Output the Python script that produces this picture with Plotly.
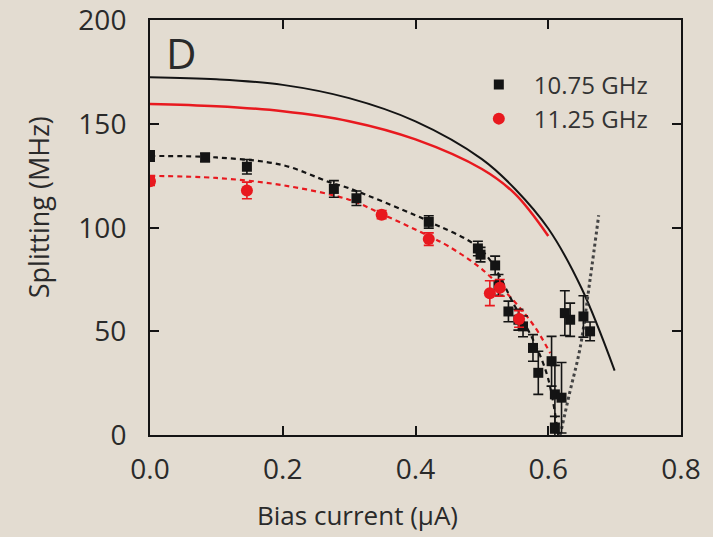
import plotly.graph_objects as go

# ---- data ----
bk_x = [0.0, 0.083, 0.146, 0.277, 0.311, 0.420, 0.494, 0.498, 0.520, 0.525, 0.540, 0.555, 0.562,
        0.577, 0.585, 0.605, 0.610, 0.620, 0.610, 0.625, 0.633, 0.653, 0.663]
bk_y = [134.6, 133.9, 129.4, 118.7, 114.2, 102.8, 90.0, 87.0, 81.8, 72.4, 59.6, 55.6, 52.4,
        42.0, 30.0, 35.6, 19.6, 18.0, 3.0, 58.8, 55.6, 57.2, 50.0]
bk_err = [2.5, 2.0, 3.5, 4.0, 3.5, 3.0, 3.5, 3.5, 4.5, 5.0, 5.0, 5.0, 5.0,
          6.4, 10.4, 12.0, 14.0, 17.0, 6.0, 10.8, 8.0, 10.0, 4.5]

rd_x = [0.0, 0.146, 0.349, 0.420, 0.512, 0.527, 0.556]
rd_y = [122.4, 118.0, 106.3, 94.5, 68.4, 71.0, 56.0]
rd_err = [2.0, 4.0, 2.0, 3.0, 6.0, 4.0, 4.0]

# theory curves (solid)
th_bk_x = [0.0, 0.1, 0.2, 0.3, 0.4, 0.5, 0.55, 0.6, 0.65, 0.7]
th_bk_y = [172.6, 171.6, 168.9, 162.5, 151.3, 133.1, 118.7, 99.6, 70.9, 31.1]
th_rd_x = [0.0, 0.1, 0.2, 0.3, 0.4, 0.5, 0.55, 0.6]
th_rd_y = [159.7, 158.6, 156.2, 151.4, 142.6, 128.3, 116.3, 96.0]

# fit curves (dashed)
fit_bk_x = [0.0, 0.1, 0.2, 0.27, 0.3, 0.4, 0.42, 0.5, 0.55, 0.58, 0.6, 0.615]
fit_bk_y = [134.6, 133.9, 130.2, 122.0, 119.0, 106.0, 103.0, 89.0, 62.0, 44.0, 27.0, 0.0]
fit_rd_x = [0.0, 0.1, 0.2, 0.3, 0.35, 0.42, 0.45, 0.5, 0.55, 0.58, 0.603]
fit_rd_y = [125.0, 124.0, 120.5, 113.5, 106.5, 96.0, 91.0, 80.0, 64.0, 52.0, 39.5]

# dotted line
dot_x = [0.618, 0.632, 0.648, 0.663, 0.676]
dot_y = [0.0, 20.0, 42.0, 75.0, 106.0]

x_ticks = [0.0, 0.2, 0.4, 0.6, 0.8]
x_ticklabels = ["0.0", "0.2", "0.4", "0.6", "0.8"]
y_ticks = [0, 50, 100, 150, 200]
y_ticklabels = ["0", "50", "100", "150", "200"]

BLACK = "#141414"
RED = "#e8191f"
BG = "#e3dcd1"
FONT = "Open Sans"

fig = go.Figure()

fig.add_trace(go.Scatter(x=th_bk_x, y=th_bk_y, mode="lines", line=dict(color=BLACK, width=2, shape="spline"),
                         showlegend=False, hoverinfo="skip"))
fig.add_trace(go.Scatter(x=th_rd_x, y=th_rd_y, mode="lines", line=dict(color=RED, width=2.5, shape="spline"),
                         showlegend=False, hoverinfo="skip"))
fig.add_trace(go.Scatter(x=fit_rd_x, y=fit_rd_y, mode="lines",
                         line=dict(color=RED, width=2.2, dash="5px,4px", shape="spline"),
                         showlegend=False, hoverinfo="skip"))
fig.add_trace(go.Scatter(x=fit_bk_x, y=fit_bk_y, mode="lines",
                         line=dict(color=BLACK, width=2.2, dash="5px,4px", shape="spline"),
                         showlegend=False, hoverinfo="skip"))
fig.add_trace(go.Scatter(x=dot_x, y=dot_y, mode="lines",
                         line=dict(color="#444444", width=3, dash="dot", shape="spline"),
                         showlegend=False, hoverinfo="skip"))

fig.add_trace(go.Scatter(x=bk_x, y=bk_y, mode="markers", name="10.75 GHz", legendgroup="a",
                         marker=dict(symbol="square", size=10, color=BLACK),
                         error_y=dict(type="data", array=bk_err, color=BLACK, thickness=1.6, width=5)))
fig.add_trace(go.Scatter(x=rd_x, y=rd_y, mode="markers", name="11.25 GHz", legendgroup="b",
                         marker=dict(symbol="circle", size=12, color=RED),
                         error_y=dict(type="data", array=rd_err, color=RED, thickness=1.6, width=5)))

axis_common = dict(showline=True, linecolor=BLACK, linewidth=2, mirror="ticks", ticks="inside",
                   ticklen=9, tickwidth=2, tickcolor=BLACK, showgrid=False, zeroline=False,
                   automargin=False, ticklabeloverflow="allow",
                   tickfont=dict(family=FONT, size=28, color="#2a2a2a"))

fig.update_xaxes(range=[0, 0.8], tickvals=x_ticks, ticktext=x_ticklabels, ticklabelstandoff=8, **axis_common)
fig.update_yaxes(range=[0, 200.2], tickvals=y_ticks, ticktext=y_ticklabels, ticklabelstandoff=16, **axis_common)

fig.update_layout(
    width=713, height=537,
    margin=dict(l=150, r=32, t=20, b=102),
    paper_bgcolor=BG, plot_bgcolor=BG,
    font=dict(family=FONT, color="#2a2a2a"),
    legend=dict(x=0.591, y=0.898, xanchor="left", yanchor="top", bgcolor="rgba(0,0,0,0)",
                font=dict(family=FONT, size=24, color="#333333"),
                traceorder="grouped", tracegroupgap=0, itemwidth=60),
    annotations=[
        dict(text="D", xref="paper", yref="paper", x=0.026, y=0.995, xanchor="left", yanchor="top",
             showarrow=False, font=dict(family=FONT, size=42, color="#2a2a2a")),
        dict(text="Bias current (μA)", xref="paper", yref="paper", x=0.39, y=-0.192,
             xanchor="center", yanchor="middle", showarrow=False,
             font=dict(family=FONT, size=26, color="#2a2a2a")),
        dict(text="Splitting (MHz)", xref="paper", yref="paper", x=-0.21, y=0.55,
             xanchor="center", yanchor="middle", textangle=-90, showarrow=False,
             font=dict(family=FONT, size=27, color="#2a2a2a")),
    ],
)

fig.write_html("out.html")
